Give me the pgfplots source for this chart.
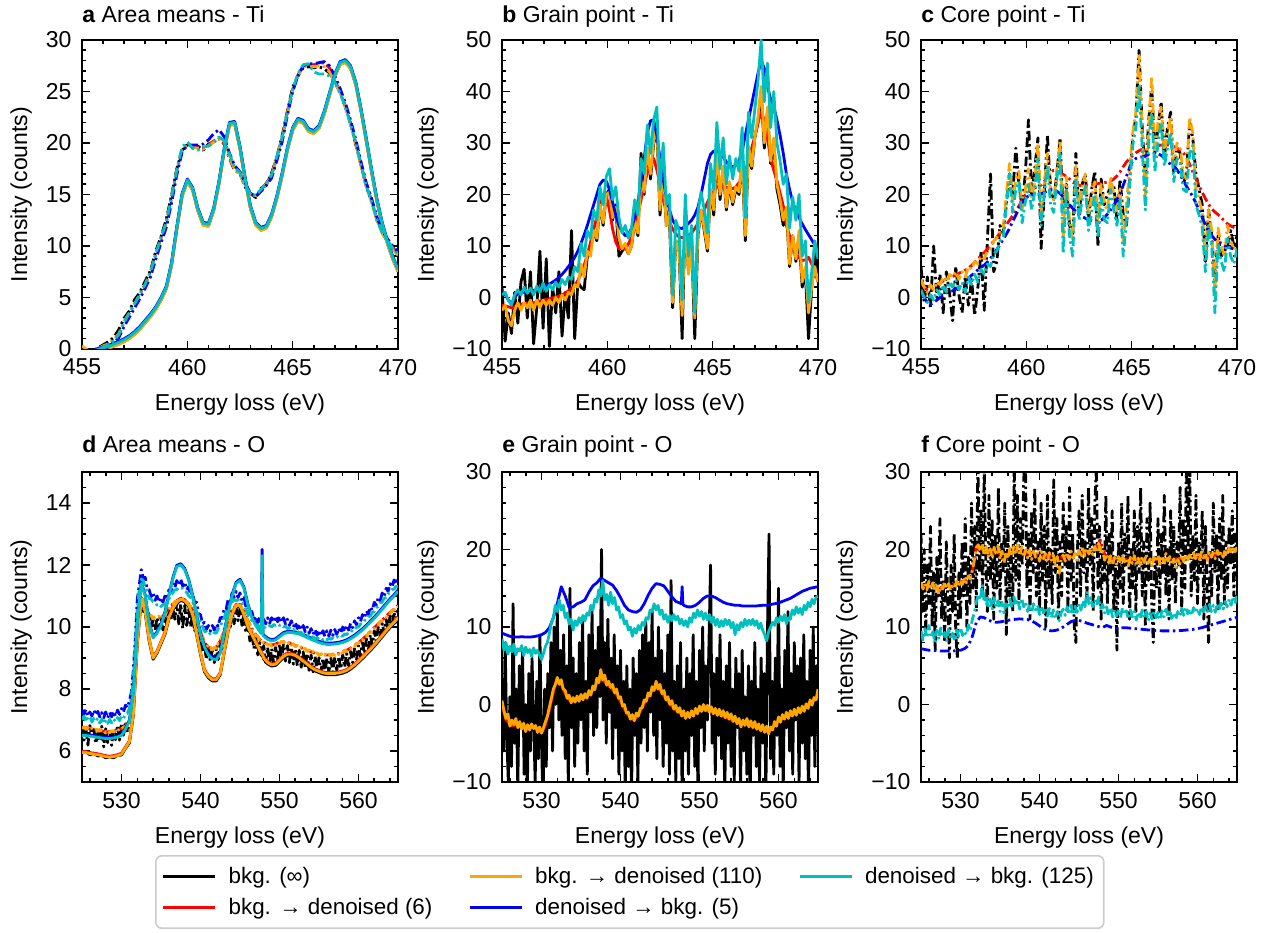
\documentclass[border=0pt]{standalone}
\usepackage{fontspec}
\setmainfont{Liberation Sans}
\usepackage{pgfplots}
\usepackage{pgfplotstable}
\pgfplotsset{compat=1.18}
\definecolor{cK}{RGB}{0,0,0}
\definecolor{cR}{RGB}{255,0,0}
\definecolor{cO}{RGB}{255,165,0}
\definecolor{cB}{RGB}{0,0,255}
\definecolor{cC}{RGB}{0,191,191}
\newcommand{\fs}{\fontsize{11.5}{13.8}\selectfont}
\newcommand{\fl}{\fontsize{11.2}{13.4}\selectfont}
\pgfplotsset{
  panel/.style={
    scale only axis, width=158pt,
    axis line style={line width=0.9pt},
    every tick/.style={black, line width=0.8pt},
    tick align=inside,
    major tick length=4pt, minor tick length=2pt,
    tick label style={font=\fs},
    label style={font=\fs},
    xlabel={Energy loss (eV)},
    ylabel={Intensity (counts)},
    xlabel style={yshift=-2.5pt},
    xticklabel style={yshift=-1.5pt},
    yticklabel style={xshift=-1.8pt},
    every axis plot/.append style={line width=1.4pt, line join=round},
  },
  ttl/.style 2 args={extra description/.append code={\node[anchor=base west, font=\fs, inner sep=0pt, yshift=#1] at (0,1) {#2};}},
  ti/.style={xmin=455,xmax=470, xtick={455,460,465,470}, xticklabels={455,460,465,470},
    minor xtick={455,...,470}, height=154.5pt},
  ox/.style={xmin=525,xmax=565, xtick={530,540,550,560}, xticklabels={530,540,550,560},
    minor xtick={526,528,...,564}, height=155pt},
  ytp/.style={ymin=-10,ymax=50, ytick={-10,0,10,20,30,40,50}, yticklabels={−10,0,10,20,30,40,50}, minor ytick={-10,-8,...,50}},
  yop/.style={ymin=-10,ymax=30, ytick={-10,0,10,20,30}, yticklabels={−10,0,10,20,30}, minor ytick={-10,-8,...,30}},
  dd/.style={dash pattern=on 4.8pt off 1.8pt on 1.2pt off 1.8pt},
}

\begin{document}

\pgfplotstableread{
x sK sR sO sB sC dK dR dO dB dC
455.00 -0.75 -0.7 -0.8 -0.5 -0.6 -0.2 -0.4 0.3 -0.5 -0.3
455.25 -0.65 -0.6 -0.7 -0.4 -0.5 -0.1 -0.3 -0.1 -0.4 -0.2
455.50 -0.45 -0.4 -0.5 -0.2 -0.3 -0.2 -0.3 -0.2 -0.5 -0.3
455.75 -0.2 -0.15 -0.25 0.05 -0.05 0.1 -0.1 0.0 -0.3 -0.1
456.00 -0.05 0.0 -0.1 0.2 0.1 0.4 0.2 0.3 0.0 0.2
456.25 0.1 0.15 0.05 0.35 0.25 0.7 0.4 0.5 0.2 0.4
456.50 0.3 0.35 0.25 0.55 0.45 1.1 0.8 0.9 0.6 0.8
456.75 0.5 0.55 0.45 0.75 0.65 1.9 1.4 1.5 1.1 1.4
457.00 0.75 0.8 0.7 1.0 0.9 3.0 2.6 2.7 2.2 2.6
457.25 1.05 1.1 1.0 1.3 1.2 3.7 3.5 3.5 3.1 3.5
457.50 1.45 1.5 1.4 1.7 1.6 4.8 4.4 4.4 4.0 4.4
457.75 1.95 2.0 1.9 2.2 2.1 5.5 5.3 5.3 4.9 5.3
458.00 2.55 2.6 2.5 2.8 2.7 6.6 6.3 6.2 5.9 6.3
458.25 3.15 3.2 3.1 3.4 3.3 7.6 7.5 7.4 7.0 7.5
458.50 3.85 3.9 3.8 4.1 4.0 9.5 9.2 9.1 8.7 9.2
458.75 4.75 4.8 4.7 5.0 4.9 10.9 10.8 10.7 10.3 10.8
459.00 5.85 5.9 5.8 6.1 6.0 12.6 12.3 12.2 11.8 12.3
459.25 8.15 8.2 8.1 8.4 8.3 14.9 14.7 14.6 14.2 14.7
459.50 11.65 11.7 11.6 11.9 11.8 17.5 17.4 17.3 16.9 17.4
459.75 14.85 14.9 14.8 15.1 15.0 19.3 19.4 19.3 19.1 19.6
460.00 16.25 16.3 16.2 16.5 16.4 19.8 19.9 19.8 19.8 20.1
460.25 15.45 15.5 15.4 15.7 15.6 19.5 19.7 19.6 19.8 19.5
460.50 13.45 13.5 13.4 13.7 13.6 19.7 19.6 19.5 19.8 19.3
460.75 12.05 12.1 12.0 12.3 12.2 19.3 19.5 19.4 19.9 19.6
461.00 11.95 12.0 11.9 12.2 12.1 19.9 19.8 19.7 20.3 19.7
461.25 13.45 13.5 13.4 13.7 13.6 20.1 20.2 20.1 20.9 20.0
461.50 16.05 16.1 16.0 16.3 16.2 20.4 20.5 20.4 21.3 20.6
461.75 19.25 19.3 19.2 19.5 19.4 19.9 20.0 20.0 20.6 20.2
462.00 21.75 21.8 21.7 22.0 21.9 18.5 18.6 18.6 19.0 18.9
462.25 21.85 21.9 21.8 22.1 22.0 17.3 17.5 17.4 17.8 17.6
462.50 19.45 19.5 19.4 19.7 19.6 17.1 17.0 16.9 17.2 17.1
462.75 16.35 16.4 16.3 16.6 16.5 15.7 15.8 15.8 16.1 15.9
463.00 13.65 13.7 13.6 13.9 13.8 15.1 15.0 15.0 15.1 15.0
463.25 12.05 12.1 12.0 12.3 12.2 14.7 14.9 14.9 14.8 14.9
463.50 11.55 11.6 11.5 11.8 11.7 15.6 15.5 15.4 15.3 15.5
463.75 11.75 11.8 11.7 12.0 11.9 15.9 16.1 16.0 15.9 16.1
464.00 12.85 12.9 12.8 13.1 13.0 17.1 16.9 16.8 16.6 16.9
464.25 14.65 14.7 14.6 14.9 14.8 18.6 18.7 18.6 18.3 18.7
464.50 16.85 16.9 16.8 17.1 17.0 20.7 20.5 20.4 20.1 20.5
464.75 19.35 19.4 19.3 19.6 19.5 23.1 23.0 22.9 22.7 23.0
465.00 21.25 21.3 21.2 21.5 21.4 25.4 25.2 25.1 25.0 25.2
465.25 22.15 22.2 22.1 22.4 22.3 26.5 26.6 26.5 26.5 26.7
465.50 21.95 22.0 21.9 22.2 22.1 27.3 27.5 27.4 27.5 27.6
465.75 21.15 21.2 21.1 21.4 21.3 27.4 27.6 27.5 27.7 27.7
466.00 20.95 21.0 20.9 21.2 21.1 27.3 27.6 27.4 27.7 26.9
466.25 21.45 21.5 21.4 21.7 21.6 27.4 27.7 27.5 27.8 26.7
466.50 22.85 22.9 22.8 23.1 23.0 27.2 27.8 27.4 27.9 26.7
466.75 24.65 24.7 24.6 24.9 24.8 26.8 27.3 26.9 27.5 26.5
467.00 26.45 26.5 26.4 26.7 26.6 25.9 26.1 25.9 26.5 25.9
467.25 27.65 27.7 27.6 27.9 27.8 24.9 25.0 24.9 25.3 24.9
467.50 27.85 27.9 27.8 28.1 28.0 23.5 23.6 23.5 23.9 23.5
467.75 27.25 27.3 27.2 27.5 27.4 21.9 21.8 21.8 22.2 21.8
468.00 25.65 25.7 25.6 25.9 25.8 19.8 20.0 19.9 20.3 20.0
468.25 23.05 23.1 23.0 23.3 23.2 17.9 17.8 17.7 18.1 17.8
468.50 20.15 20.2 20.1 20.4 20.3 15.7 15.8 15.7 16.1 15.8
468.75 17.15 17.2 17.1 17.4 17.3 14.4 14.3 14.2 14.6 14.3
469.00 14.35 14.4 14.3 14.6 14.5 12.5 12.6 12.5 12.8 12.6
469.25 12.05 12.1 12.0 12.3 12.2 11.4 11.3 11.2 11.5 11.3
469.50 10.25 10.3 10.2 10.5 10.4 10.4 10.5 10.4 10.7 10.5
469.75 8.75 8.8 8.7 9.0 8.9 9.9 9.8 9.7 10.0 9.8
470.00 7.55 7.6 7.5 7.8 7.7 9.1 9.2 9.1 9.4 9.2
}\tA

\pgfplotstableread{
x K R O B C
455.00 2 -1.5 -2.5 0.8 0.5
455.15 -8.5 -1.6 -1.5 0.6 1.0
455.30 -3 -1.8 -4.5 -0.5 -0.5
455.45 -7 -2.0 -5.5 -1.2 -1.5
455.60 1 -1.8 -2.5 0.0 0.5
455.75 -5 -1.5 -1.0 0.8 1.5
455.90 3 -1.3 -2.5 1.0 0.5
456.05 5.5 -1.2 -1.0 1.0 2.0
456.20 -4 -1.1 -2.0 1.2 0.8
456.35 5 -1.05 -0.5 1.3 1.8
456.50 -9 -1.0 -2.5 1.4 0.5
456.65 -2 -0.85 -0.5 1.5 2.2
456.80 9 -0.7 -2.0 1.7 1.0
456.95 -6 -0.55 -0.5 2.0 2.8
457.10 7.5 -0.4 -1.5 2.3 1.2
457.25 -9.5 -0.25 -0.5 2.6 2.5
457.40 2 -0.1 -1.5 3.0 1.5
457.55 -3 0.1 0.0 3.4 3.0
457.70 5 0.3 -1.0 3.9 2.0
457.85 -7.5 0.55 0.5 4.5 3.5
458.00 1 0.8 -0.5 5.2 2.5
458.15 -4 1.3 1.0 6.0 4.0
458.30 13 1.8 0.5 6.8 3.5
458.45 -8 2.3 2.5 7.8 6.0
458.60 3 3.3 2.0 9.0 5.0
458.75 2 4.6 6.5 10.5 10.5
458.90 1.5 6.3 4.0 12.2 8.0
459.05 8 8.3 9.0 14.0 13.0
459.20 9 10.7 8.0 16.0 11.5
459.35 13 13.2 13.0 18.0 17.0
459.50 11 15.7 11.5 20.0 15.0
459.65 18 18.2 18.0 22.0 21.5
459.80 14 19.5 14.5 22.8 18.0
459.95 20 19.8 20.0 22.6 23.5
460.10 21 17.0 20.5 21.0 25.0
460.25 15 13.3 15.5 18.5 19.0
460.40 18 10.8 17.5 16.0 21.5
460.55 8 9.5 11.5 14.0 15.5
460.70 9 9.4 9.5 12.8 12.5
460.85 10 9.4 10.5 12.0 14.0
461.00 8.5 10.4 8.5 12.2 11.5
461.15 10 11.7 10.0 13.5 13.5
461.30 15 13.7 15.0 15.5 19.0
461.45 12 16.0 12.5 18.5 16.0
461.60 28 19.0 23.0 22.5 27.0
461.75 20 21.8 20.5 27.0 24.0
461.90 29 24.3 29.0 32.0 33.5
462.05 23 26.3 24.0 34.3 28.0
462.20 30 27.0 30.5 34.5 34.5
462.35 33 24.8 33.5 31.5 37.0
462.50 16 22.0 17.0 27.0 21.0
462.65 25 19.0 25.5 23.0 30.0
462.80 14 16.7 14.0 19.5 18.0
462.95 15 14.7 16.0 17.0 20.0
463.10 -2 13.3 -1.0 15.0 0.5
463.25 11 12.3 11.0 14.0 15.0
463.40 10 11.8 9.5 13.5 13.0
463.55 -8 11.6 -3.5 13.4 -0.5
463.70 17 11.7 16.0 13.8 20.0
463.85 5 12.1 4.5 14.4 8.0
464.00 11 12.5 10.0 15.0 14.0
464.15 -8 13.4 -4.0 16.0 -3.0
464.30 12 14.4 12.5 17.5 16.5
464.45 17 15.5 17.0 20.0 20.5
464.60 13 17.0 13.5 23.0 17.0
464.75 9 18.5 9.5 26.0 12.5
464.90 21 19.6 21.0 27.8 26.0
465.05 16 20.6 17.0 28.4 21.0
465.20 28 21.5 28.5 28.5 34.0
465.35 19 21.5 20.0 28.2 25.0
465.50 25 21.5 25.5 27.3 31.0
465.65 17 21.4 17.5 26.3 22.0
465.80 22 21.3 22.5 25.6 27.5
465.95 18 21.1 18.5 25.4 23.0
466.10 21 21.5 21.5 25.6 27.0
466.25 20 22.3 20.5 26.5 24.5
466.40 27 23.0 27.5 28.5 33.0
466.55 11 24.3 12.0 31.5 15.5
466.70 29 26.8 29.5 34.5 36.0
466.85 25 29.0 25.5 37.5 31.0
467.00 31 31.3 31.0 40.5 36.5
467.15 34 34.0 35.0 43.5 42.0
467.30 40 36.0 41.0 46.0 50.0
467.45 29 34.5 30.0 44.5 38.0
467.60 36 31.0 37.0 41.0 45.5
467.75 26 27.0 26.5 38.5 33.0
467.90 30 24.7 31.0 37.0 40.0
468.05 21 22.7 22.0 34.5 30.0
468.20 18 20.3 19.0 31.5 26.5
468.35 14 17.8 15.0 28.0 22.0
468.50 17 14.0 17.5 24.0 24.0
468.65 6 12.0 6.5 21.0 13.5
468.80 12 10.0 12.0 18.5 19.5
468.95 7 8.5 7.5 16.8 15.0
469.10 12 7.7 13.0 15.5 20.0
469.25 2 7.2 3.0 14.3 8.0
469.40 5 7.3 6.0 13.2 11.0
469.55 -8 7.8 -3.0 12.2 -1.0
469.70 2 6.5 2.0 11.2 5.0
469.85 9 5.0 6.0 10.2 11.0
470.00 3 3.0 3.0 9.3 7.5
}\tB

\pgfplotstableread{
x K R O B C
455.00 6.0 2.7 3.5 0.5 1.5
455.15 -1.0 2.2 2.0 0.0 0.0
455.30 4.0 1.4 1.0 -1.0 -1.0
455.45 -2.0 1.5 2.5 -1.3 0.5
455.60 10.0 2.0 1.5 -1.0 -0.5
455.75 0.0 2.5 3.0 -0.5 1.5
455.90 4.5 2.9 2.5 0.0 0.5
456.05 -3.0 3.2 4.0 0.5 2.5
456.20 5.0 3.5 3.0 0.9 1.0
456.35 1.0 3.8 4.5 1.1 3.0
456.50 -4.5 4.1 4.0 1.3 2.0
456.65 6.0 4.4 5.0 1.6 3.5
456.80 0.5 4.7 3.5 2.0 1.5
456.95 -3.0 5.0 5.0 2.5 3.0
457.10 4.0 5.3 4.0 3.0 1.0
457.25 -1.5 5.7 6.0 3.7 4.0
457.40 3.5 6.2 5.5 4.3 2.5
457.55 -3.5 6.8 7.0 4.8 4.5
457.70 2.0 7.5 6.5 5.4 3.0
457.85 9.0 8.1 8.0 5.9 5.5
458.00 -2.5 8.7 7.5 6.3 4.5
458.15 11.0 9.4 9.0 6.9 6.5
458.30 24.0 10.1 9.5 7.6 6.0
458.45 5.0 10.9 11.0 8.4 8.5
458.60 7.0 11.7 11.5 9.3 9.0
458.75 14.0 12.5 13.0 10.3 11.0
458.90 12.5 13.3 13.5 11.3 11.5
459.05 18.0 14.1 20.0 12.3 18.0
459.20 24.0 15.0 26.0 13.4 24.0
459.35 20.0 15.9 18.5 14.8 16.5
459.50 29.0 16.8 23.0 16.0 21.0
459.65 22.0 17.8 24.5 17.3 22.5
459.80 17.5 18.9 17.0 18.4 14.5
459.95 24.0 19.9 21.0 19.2 18.5
460.10 34.5 20.5 25.0 19.7 22.0
460.25 20.0 20.9 19.5 19.9 17.0
460.40 25.0 21.3 22.5 20.0 20.5
460.55 31.0 21.6 30.0 20.0 27.0
460.70 9.5 21.8 16.5 20.1 14.0
460.85 20.0 22.5 22.0 20.4 20.0
461.00 31.5 23.5 28.0 20.7 25.5
461.15 21.0 24.4 20.5 20.9 18.0
461.30 19.0 24.7 19.0 20.9 16.5
461.45 24.0 24.6 25.0 20.6 23.0
461.60 31.0 24.3 30.5 20.2 28.0
461.75 16.0 23.9 11.5 19.6 8.5
461.90 22.0 23.5 23.5 18.8 21.0
462.05 14.0 23.0 15.0 18.0 12.0
462.20 12.0 22.4 11.0 17.3 8.0
462.35 28.0 22.0 25.5 16.7 23.0
462.50 16.0 21.8 17.5 16.1 15.0
462.65 22.0 21.7 21.5 15.7 19.0
462.80 24.0 21.7 24.0 15.4 21.5
462.95 15.0 21.8 16.0 15.1 13.0
463.10 21.0 21.9 19.5 14.9 16.5
463.25 24.5 22.0 22.5 14.7 20.0
463.40 10.0 22.1 14.5 14.7 11.5
463.55 23.0 22.2 22.0 15.0 19.5
463.70 18.0 22.3 18.0 15.5 15.0
463.85 20.0 22.4 17.0 16.2 14.5
464.00 21.5 22.6 23.5 17.0 21.0
464.15 22.0 23.0 20.0 17.9 17.0
464.30 15.0 23.6 17.0 19.0 14.0
464.45 23.0 24.4 21.5 20.2 19.0
464.60 16.0 25.4 11.0 21.8 8.0
464.75 14.0 26.3 18.0 23.5 15.0
464.90 22.0 27.0 25.0 25.2 22.0
465.05 31.0 27.6 32.0 26.5 29.5
465.20 35.0 28.1 36.0 27.0 33.0
465.35 48.0 28.5 47.0 27.2 41.0
465.50 33.0 28.8 32.0 27.3 29.0
465.65 23.0 29.0 20.0 27.5 17.0
465.80 34.0 29.2 33.0 27.8 30.0
465.95 41.0 29.3 43.0 28.0 36.0
466.10 28.0 29.4 27.5 28.0 24.5
466.25 33.0 29.5 34.0 27.9 30.0
466.40 38.0 29.6 37.0 27.6 34.0
466.55 27.0 29.6 28.0 27.1 25.5
466.70 33.0 29.6 32.0 26.5 29.0
466.85 36.0 29.5 35.0 25.8 32.0
467.00 24.0 29.3 25.5 25.6 22.5
467.15 29.0 29.0 30.0 24.8 27.0
467.30 28.0 28.6 29.0 23.8 26.5
467.45 22.0 28.1 24.0 22.7 21.0
467.60 24.0 27.2 23.0 21.6 20.5
467.75 34.0 25.9 35.0 20.6 28.0
467.90 31.0 24.4 32.0 19.6 29.5
468.05 24.0 23.0 21.0 18.3 18.0
468.20 21.0 21.7 19.0 16.9 16.0
468.35 18.0 20.4 16.5 15.5 13.5
468.50 7.0 19.2 8.0 14.1 5.0
468.65 17.0 18.1 17.0 12.9 14.0
468.80 12.0 17.2 13.0 12.0 10.0
468.95 3.0 16.6 1.0 11.3 -3.0
469.10 12.0 16.1 13.5 10.8 10.5
469.25 8.0 15.5 10.0 10.4 7.0
469.40 9.0 14.9 8.0 10.0 5.0
469.55 10.0 14.3 14.0 9.8 11.5
469.70 13.0 13.9 11.0 9.6 8.0
469.85 10.0 13.6 9.5 9.4 6.5
470.00 12.0 13.4 10.0 9.2 9.5
}\tC

\pgfplotstableread{
x K R O B C
525.0 5.93 5.98 5.95 6.54 6.50
525.5 5.97 5.98 5.95 6.54 6.50
526.0 5.88 5.95 5.92 6.52 6.48
526.5 5.92 5.93 5.90 6.50 6.46
527.0 5.84 5.91 5.88 6.48 6.44
527.5 5.86 5.88 5.85 6.46 6.42
528.0 5.78 5.85 5.82 6.44 6.40
528.5 5.81 5.83 5.80 6.44 6.40
529.0 5.78 5.85 5.82 6.46 6.42
529.5 5.86 5.88 5.85 6.49 6.45
530.0 5.87 5.93 5.90 6.54 6.50
530.5 6.08 6.13 6.10 6.74 6.70
531.0 6.26 6.33 6.30 6.99 6.95
531.5 7.15 7.23 7.20 7.94 7.90
532.0 9.45 9.53 9.50 10.14 10.10
532.5 10.85 10.93 10.90 11.44 11.40
533.0 10.45 10.53 10.50 11.04 11.00
533.5 9.55 9.63 9.60 10.14 10.10
534.0 8.96 9.03 9.00 9.69 9.65
534.5 9.16 9.23 9.20 9.84 9.80
535.0 9.46 9.53 9.50 10.09 10.05
535.5 9.76 9.83 9.80 10.49 10.45
536.0 10.26 10.33 10.30 11.04 11.00
536.5 10.56 10.63 10.60 11.59 11.55
537.0 10.76 10.83 10.80 11.99 11.95
537.5 10.86 10.93 10.90 12.04 12.00
538.0 10.81 10.88 10.85 11.89 11.85
538.5 10.66 10.73 10.70 11.54 11.50
539.0 10.36 10.43 10.40 11.04 11.00
539.5 9.76 9.83 9.80 10.39 10.35
540.0 9.11 9.18 9.15 9.79 9.75
540.5 8.56 8.63 8.60 9.39 9.35
541.0 8.36 8.43 8.40 9.14 9.10
541.5 8.26 8.33 8.30 9.01 8.97
542.0 8.26 8.33 8.30 8.99 8.95
542.5 8.46 8.53 8.50 9.19 9.15
543.0 9.16 9.23 9.20 9.84 9.80
543.5 9.86 9.93 9.90 10.49 10.45
544.0 10.36 10.43 10.40 11.04 11.00
544.5 10.66 10.73 10.70 11.44 11.40
545.0 10.66 10.73 10.70 11.54 11.50
545.5 10.36 10.43 10.40 11.29 11.25
546.0 9.96 10.03 10.00 10.74 10.70
546.5 9.71 9.78 9.75 10.34 10.30
547.0 9.46 9.53 9.50 10.09 10.05
547.5 9.21 9.28 9.25 9.89 9.85
547.7 9.11 9.18 9.15 9.83 9.79
547.8 9.08 9.15 9.12 12.50 12.30
547.9 9.04 9.11 9.08 9.79 9.75
548.0 8.96 9.03 9.00 9.74 9.70
548.5 8.81 8.88 8.85 9.64 9.60
549.0 8.74 8.81 8.78 9.59 9.55
549.5 8.76 8.83 8.80 9.62 9.58
550.0 8.88 8.95 8.92 9.72 9.68
550.5 9.01 9.08 9.05 9.82 9.78
551.0 9.08 9.15 9.12 9.86 9.82
551.5 9.08 9.15 9.12 9.86 9.82
552.0 9.04 9.11 9.08 9.84 9.80
552.5 8.96 9.03 9.00 9.81 9.77
553.0 8.86 8.93 8.90 9.76 9.72
553.5 8.76 8.83 8.80 9.70 9.66
554.0 8.66 8.73 8.70 9.64 9.60
554.5 8.58 8.65 8.62 9.59 9.55
555.0 8.53 8.60 8.57 9.54 9.50
555.5 8.48 8.55 8.52 9.50 9.46
556.0 8.46 8.53 8.50 9.48 9.44
556.5 8.46 8.53 8.50 9.48 9.44
557.0 8.46 8.53 8.50 9.49 9.45
557.5 8.48 8.55 8.52 9.51 9.47
558.0 8.51 8.58 8.55 9.54 9.50
558.5 8.56 8.63 8.60 9.59 9.55
559.0 8.64 8.71 8.68 9.66 9.62
559.5 8.74 8.81 8.78 9.74 9.70
560.0 8.86 8.93 8.90 9.84 9.80
560.5 8.98 9.05 9.02 9.94 9.90
561.0 9.11 9.18 9.15 10.06 10.02
561.5 9.24 9.31 9.28 10.19 10.15
562.0 9.38 9.45 9.42 10.32 10.28
562.5 9.53 9.60 9.57 10.46 10.42
563.0 9.68 9.75 9.72 10.61 10.57
563.5 9.84 9.91 9.88 10.76 10.72
564.0 9.98 10.05 10.02 10.91 10.87
564.5 10.11 10.18 10.15 11.04 11.00
565.0 10.26 10.33 10.30 11.19 11.15
}\tDs

\pgfplotstableread{
x K R O B C
525.00 6.80 6.75 6.72 7.33 7.00
525.25 6.35 6.75 6.78 7.19 7.13
525.50 6.70 6.75 6.70 7.34 6.94
525.75 6.19 6.74 6.76 7.13 7.09
526.00 6.82 6.72 6.68 7.26 7.12
526.25 6.46 6.71 6.74 7.13 6.93
526.50 6.70 6.70 6.66 7.32 7.05
526.75 6.24 6.69 6.71 7.16 6.97
527.00 6.58 6.68 6.64 7.28 7.06
527.25 6.31 6.66 6.70 7.10 6.90
527.50 6.80 6.65 6.62 7.24 7.03
527.75 6.13 6.63 6.66 7.07 6.88
528.00 6.72 6.62 6.58 7.26 7.00
528.25 6.27 6.62 6.65 7.06 6.89
528.50 6.62 6.62 6.59 7.25 7.02
528.75 6.18 6.63 6.66 7.10 6.91
529.00 6.69 6.64 6.61 7.28 7.03
529.25 6.36 6.66 6.69 7.12 6.95
529.50 6.83 6.68 6.64 7.32 7.08
529.75 6.35 6.70 6.73 7.18 6.98
530.00 6.90 6.72 6.70 7.37 7.12
530.25 6.51 6.76 6.78 7.25 7.05
530.50 6.95 6.80 6.77 7.48 7.20
530.75 6.60 6.88 6.90 7.40 7.22
531.00 6.95 7.00 6.97 7.62 7.38
531.25 7.30 7.40 7.42 7.90 7.75
531.50 7.95 8.00 7.96 8.62 8.38
531.75 8.85 9.10 9.12 9.66 9.52
532.00 10.15 10.20 10.16 10.90 10.62
532.25 10.40 10.70 10.72 11.35 11.22
532.50 10.85 10.95 10.91 11.85 11.55
532.75 10.50 10.85 10.87 11.58 11.50
533.00 10.65 10.70 10.66 11.60 11.28
533.25 10.20 10.55 10.57 11.22 11.15
533.50 10.35 10.40 10.36 11.20 10.92
533.75 9.95 10.35 10.37 10.98 10.90
534.00 10.25 10.30 10.26 11.10 10.82
534.25 9.90 10.32 10.35 10.86 10.80
534.50 10.30 10.35 10.31 11.00 10.70
534.75 9.95 10.32 10.35 10.80 10.74
535.00 10.25 10.30 10.26 10.95 10.66
535.25 9.90 10.35 10.38 10.80 10.72
535.50 10.35 10.40 10.36 11.00 10.70
535.75 10.05 10.50 10.53 10.92 10.85
536.00 10.55 10.60 10.56 11.20 10.90
536.25 10.20 10.68 10.70 11.12 11.05
536.50 10.70 10.75 10.71 11.40 11.10
536.75 10.25 10.80 10.83 11.27 11.20
537.00 10.80 10.85 10.81 11.50 11.20
537.25 10.10 10.88 10.90 11.35 11.28
537.50 10.75 10.90 10.86 11.55 11.25
537.75 9.95 10.88 10.91 11.32 11.25
538.00 10.70 10.85 10.81 11.45 11.15
538.25 10.05 10.80 10.83 11.20 11.12
538.50 10.60 10.75 10.71 11.30 11.00
538.75 10.00 10.65 10.68 11.02 10.95
539.00 10.45 10.55 10.51 11.10 10.80
539.25 9.85 10.40 10.43 10.78 10.70
539.50 10.15 10.25 10.21 10.80 10.50
539.75 9.50 10.05 10.08 10.42 10.35
540.00 9.75 9.85 9.81 10.40 10.10
540.25 9.20 9.68 9.71 10.10 10.02
540.50 9.40 9.50 9.46 10.15 9.85
540.75 8.95 9.42 9.45 9.92 9.85
541.00 9.30 9.35 9.31 10.05 9.75
541.25 8.90 9.32 9.35 9.87 9.80
541.50 9.25 9.30 9.26 10.05 9.75
541.75 8.85 9.32 9.35 9.90 9.82
542.00 9.30 9.35 9.31 10.10 9.80
542.25 8.95 9.45 9.48 10.02 9.95
542.50 9.50 9.55 9.51 10.30 10.00
542.75 9.25 9.72 9.75 10.28 10.20
543.00 9.85 9.90 9.86 10.60 10.30
543.25 9.60 10.10 10.13 10.57 10.50
543.50 10.25 10.30 10.26 10.90 10.60
543.75 9.95 10.43 10.46 10.82 10.75
544.00 10.50 10.55 10.51 11.10 10.80
544.25 10.10 10.63 10.66 10.95 10.88
544.50 10.65 10.70 10.66 11.15 10.85
544.75 10.20 10.70 10.73 10.95 10.88
545.00 10.60 10.70 10.66 11.10 10.80
545.25 10.05 10.60 10.63 10.85 10.78
545.50 10.40 10.50 10.46 10.95 10.65
545.75 9.80 10.35 10.38 10.65 10.58
546.00 10.10 10.20 10.16 10.70 10.40
546.25 9.55 10.08 10.11 10.42 10.35
546.50 9.85 9.95 9.91 10.50 10.20
546.75 9.30 9.85 9.88 10.25 10.18
547.00 9.65 9.75 9.71 10.35 10.05
547.25 9.10 9.68 9.71 10.14 10.07
547.50 9.50 9.60 9.56 10.30 10.00
547.75 9.00 9.55 9.58 10.10 10.03
548.00 9.40 9.50 9.46 10.25 9.95
548.25 8.85 9.48 9.51 10.10 10.03
548.50 9.35 9.45 9.41 10.30 10.00
548.75 8.80 9.43 9.46 10.12 10.05
549.00 9.30 9.42 9.38 10.30 10.00
549.25 8.85 9.43 9.46 10.15 10.08
549.50 9.35 9.45 9.41 10.35 10.05
549.75 8.90 9.48 9.51 10.17 10.10
550.00 9.45 9.50 9.46 10.35 10.05
550.25 8.95 9.51 9.54 10.15 10.08
550.50 9.45 9.52 9.48 10.30 10.00
550.75 8.90 9.51 9.54 10.10 10.03
551.00 9.40 9.50 9.46 10.25 9.95
551.25 8.85 9.48 9.51 10.05 9.98
551.50 9.35 9.45 9.41 10.20 9.90
551.75 8.80 9.43 9.46 10.00 9.93
552.00 9.30 9.40 9.36 10.15 9.85
552.25 8.75 9.38 9.41 9.95 9.88
552.50 9.25 9.35 9.31 10.10 9.80
552.75 8.70 9.33 9.36 9.90 9.83
553.00 9.20 9.30 9.26 10.05 9.75
553.25 8.70 9.28 9.31 9.85 9.78
553.50 9.15 9.25 9.21 10.00 9.70
553.75 8.60 9.23 9.26 9.80 9.73
554.00 9.10 9.20 9.16 9.95 9.65
554.25 8.55 9.18 9.21 9.76 9.69
554.50 9.05 9.15 9.11 9.92 9.62
554.75 8.60 9.14 9.17 9.73 9.66
555.00 9.02 9.12 9.08 9.90 9.60
555.25 8.55 9.11 9.14 9.71 9.64
555.50 9.00 9.10 9.06 9.88 9.58
555.75 8.50 9.10 9.13 9.70 9.63
556.00 9.00 9.10 9.06 9.88 9.58
556.25 8.55 9.10 9.13 9.71 9.64
556.50 9.00 9.10 9.06 9.90 9.60
556.75 8.55 9.11 9.14 9.73 9.66
557.00 9.02 9.12 9.08 9.92 9.62
557.25 8.60 9.13 9.16 9.76 9.69
557.50 9.05 9.15 9.11 9.96 9.66
557.75 8.65 9.18 9.21 9.80 9.73
558.00 9.10 9.20 9.16 10.00 9.70
558.25 8.70 9.23 9.26 9.85 9.78
558.50 9.15 9.25 9.21 10.05 9.75
558.75 8.75 9.28 9.31 9.90 9.83
559.00 9.22 9.32 9.28 10.12 9.82
559.25 8.85 9.36 9.39 9.98 9.91
559.50 9.30 9.40 9.36 10.20 9.90
559.75 8.95 9.45 9.48 10.07 10.00
560.00 9.40 9.50 9.46 10.30 10.00
560.25 9.05 9.55 9.58 10.17 10.10
560.50 9.50 9.60 9.56 10.40 10.10
560.75 9.15 9.66 9.69 10.28 10.21
561.00 9.62 9.72 9.68 10.52 10.22
561.25 9.25 9.78 9.81 10.40 10.33
561.50 9.75 9.85 9.81 10.65 10.35
561.75 9.40 9.92 9.95 10.54 10.47
562.00 9.88 9.98 9.94 10.80 10.50
562.25 9.55 10.04 10.07 10.70 10.63
562.50 10.00 10.10 10.06 10.95 10.65
562.75 9.65 10.16 10.19 10.85 10.78
563.00 10.12 10.22 10.18 11.10 10.80
563.25 9.80 10.28 10.31 11.00 10.93
563.50 10.25 10.35 10.31 11.25 10.95
563.75 9.90 10.41 10.44 11.15 11.08
564.00 10.37 10.47 10.43 11.40 11.10
564.25 10.05 10.52 10.55 11.28 11.21
564.50 10.48 10.58 10.54 11.52 11.22
564.75 10.15 10.64 10.67 11.38 11.31
565.00 10.60 10.70 10.66 11.60 11.30
}\tDd

\pgfplotstableread{
x K
525.0 3
525.2 -6
525.4 8
525.6 -4
525.8 -10
526.0 1
526.2 -8
526.4 13
526.6 -5
526.8 2
527.0 -11
527.2 5
527.4 -3
527.6 7
527.8 -9
528.0 0
528.2 -12
528.4 4
528.6 -6
528.8 6
529.0 -2
529.2 -10
529.4 3
529.6 -7
529.8 9
530.0 -5
530.2 -13
530.4 2
530.6 -8
530.8 4
531.0 -3
531.2 8
531.4 -6
531.6 10
531.8 0
532.0 12
532.2 -2
532.4 7
532.6 -4
532.8 9
533.0 -7
533.2 5
533.4 -11
533.6 15
533.8 -3
534.0 6
534.2 -8
534.4 4
534.6 -5
534.8 8
535.0 -2
535.2 11
535.4 -6
535.6 3
535.8 -9
536.0 9
536.2 -1
536.4 12
536.6 -4
536.8 7
537.0 -3
537.2 10
537.4 1
537.6 20
537.8 -2
538.0 8
538.2 -5
538.4 11
538.6 -1
538.8 6
539.0 -7
539.2 9
539.4 -3
539.6 5
539.8 -9
540.0 7
540.2 -6
540.4 3
540.6 -11
540.8 5
541.0 -8
541.2 2
541.4 -12
541.6 6
541.8 -4
542.0 4
542.2 -10
542.4 7
542.6 -5
542.8 9
543.0 -3
543.2 11
543.4 -6
543.6 8
543.8 -1
544.0 12
544.2 -4
544.4 6
544.6 -7
544.8 10
545.0 -2
545.2 7
545.4 -8
545.6 4
545.8 -5
546.0 9
546.2 -9
546.4 16
546.6 -6
546.8 3
547.0 -10
547.2 5
547.4 -7
547.6 8
547.8 -12
548.0 2
548.2 -6
548.4 6
548.6 -9
548.8 4
549.0 -4
549.2 9
549.4 -8
549.6 3
549.8 -11
550.0 7
550.2 -3
550.4 10
550.6 -6
550.8 5
551.0 -2
551.2 8
551.4 18
551.6 -5
551.8 4
552.0 -9
552.2 6
552.4 -4
552.6 9
552.8 -7
553.0 3
553.2 -12
553.4 5
553.6 -5
553.8 8
554.0 -8
554.2 2
554.4 -10
554.6 6
554.8 -3
555.0 4
555.2 -11
555.4 7
555.6 -6
555.8 1
556.0 -9
556.2 5
556.4 -13
556.6 3
556.8 -4
557.0 8
557.2 -8
557.4 2
557.6 -10
557.8 6
558.0 -5
558.2 4
558.4 -12
558.6 9
558.8 22
559.0 -7
559.2 3
559.4 -9
559.6 6
559.8 -4
560.0 15
560.2 -8
560.4 2
560.6 -11
560.8 7
561.0 -3
561.2 12
561.4 -6
561.6 4
561.8 -9
562.0 8
562.2 -2
562.4 5
562.6 -10
562.8 6
563.0 -5
563.2 9
563.4 -7
563.6 3
563.8 -12
564.0 7
564.2 -4
564.4 10
564.6 -8
564.8 5
565.0 1
}\tEk

\pgfplotstableread{
x O R C
525.00 0.5 0.0 8.5
525.25 -0.8 -1.0 7.0
525.50 -1.8 -2.0 8.0
525.75 -1.2 -2.2 6.5
526.00 -2.8 -2.6 7.5
526.25 -2.0 -2.7 6.8
526.50 -2.6 -2.7 7.8
526.75 -1.8 -2.6 6.4
527.00 -3.0 -2.7 7.2
527.25 -2.2 -2.8 6.9
527.50 -3.2 -2.9 7.6
527.75 -2.4 -3.0 6.3
528.00 -3.5 -3.1 7.4
528.25 -2.6 -3.1 6.7
528.50 -3.3 -3.0 7.1
528.75 -2.5 -3.0 6.2
529.00 -3.1 -3.0 7.3
529.25 -2.7 -3.1 6.6
529.50 -3.6 -3.3 7.0
529.75 -2.9 -3.4 6.4
530.00 -3.7 -3.5 5.8
530.25 -3.0 -3.2 6.6
530.50 -2.2 -2.6 7.5
530.75 -1.5 -1.6 8.0
531.00 -0.3 -0.7 9.2
531.25 0.8 0.5 10.5
531.50 2.0 1.6 11.2
531.75 2.6 2.5 12.8
532.00 3.5 3.0 12.0
532.25 2.6 3.0 13.5
532.50 3.2 2.6 12.2
532.75 2.0 2.0 12.8
533.00 1.8 1.4 11.2
533.25 0.8 0.9 11.8
533.50 1.2 0.6 10.4
533.75 0.2 0.5 11.0
534.00 0.9 0.5 9.6
534.25 0.3 0.5 10.8
534.50 1.1 0.6 10.2
534.75 0.4 0.7 11.2
535.00 1.3 0.8 10.5
535.25 0.6 0.9 11.5
535.50 1.4 1.0 10.8
535.75 0.8 1.1 11.8
536.00 1.8 1.3 11.5
536.25 1.2 1.5 12.8
536.50 2.4 1.8 12.2
536.75 1.9 2.2 13.6
537.00 3.4 2.7 13.2
537.25 2.8 3.0 14.8
537.50 4.5 3.2 14.0
537.75 3.2 3.1 16.0
538.00 3.8 2.9 13.5
538.25 2.5 2.7 14.2
538.50 3.0 2.4 12.8
538.75 2.2 2.2 14.5
539.00 2.6 1.9 13.0
539.25 1.5 1.6 13.8
539.50 2.0 1.3 12.2
539.75 0.8 0.9 12.6
540.00 1.0 0.4 11.2
540.25 -0.2 -0.1 11.6
540.50 0.0 -0.6 10.4
540.75 -1.1 -1.0 10.8
541.00 -1.0 -1.4 9.6
541.25 -1.9 -1.7 10.0
541.50 -1.3 -1.9 8.8
541.75 -2.1 -1.9 9.8
542.00 -1.1 -1.7 9.2
542.25 -1.5 -1.3 10.2
542.50 -0.5 -0.9 9.6
542.75 -0.4 -0.4 10.6
543.00 0.6 0.1 10.2
543.25 0.4 0.6 11.2
543.50 1.5 1.0 11.0
543.75 1.1 1.5 12.2
544.00 2.3 1.8 12.0
544.25 1.8 2.1 13.0
544.50 3.0 2.2 12.2
544.75 2.0 2.1 12.8
545.00 2.6 1.9 11.6
545.25 1.4 1.5 12.2
545.50 1.8 1.1 11.0
545.75 0.6 0.7 11.6
546.00 1.0 0.4 10.6
546.25 0.0 0.1 11.5
546.50 0.5 -0.2 10.8
546.75 -0.6 -0.5 11.6
547.00 -0.1 -0.7 10.9
547.25 -1.0 -0.9 11.4
547.50 -0.4 -1.1 10.4
547.75 -1.5 -1.3 11.0
548.00 -0.8 -1.4 10.2
548.25 -1.8 -1.5 10.8
548.50 -1.0 -1.5 10.0
548.75 -1.7 -1.4 11.2
549.00 -0.8 -1.3 10.6
549.25 -1.5 -1.2 11.8
549.50 -0.5 -1.0 11.2
549.75 -1.2 -0.9 12.2
550.00 -0.2 -0.8 11.4
550.25 -0.9 -0.7 12.0
550.50 0.0 -0.7 11.0
550.75 -0.8 -0.7 11.8
551.00 -0.1 -0.8 10.9
551.25 -1.0 -0.9 11.6
551.50 -0.3 -0.9 10.6
551.75 -1.2 -1.0 11.3
552.00 -0.5 -1.1 10.2
552.25 -1.4 -1.2 11.0
552.50 -0.6 -1.3 10.0
552.75 -1.5 -1.4 10.8
553.00 -0.8 -1.5 10.1
553.25 -1.7 -1.6 11.0
553.50 -1.0 -1.7 10.3
553.75 -1.9 -1.8 10.9
554.00 -1.2 -1.9 9.9
554.25 -2.2 -2.0 10.6
554.50 -1.5 -2.1 9.0
554.75 -2.5 -2.2 10.3
555.00 -1.8 -2.3 9.6
555.25 -2.9 -2.4 10.6
555.50 -2.0 -2.5 10.0
555.75 -2.7 -2.5 11.0
556.00 -1.8 -2.5 10.2
556.25 -2.9 -2.6 10.9
556.50 -2.1 -2.7 10.3
556.75 -3.0 -2.8 11.0
557.00 -2.2 -2.9 10.2
557.25 -3.2 -3.0 10.8
557.50 -2.5 -3.1 9.8
557.75 -3.4 -3.2 10.5
558.00 -2.6 -3.2 9.6
558.25 -3.6 -3.3 9.0
558.50 -2.8 -3.3 8.2
558.75 -3.8 -3.3 9.4
559.00 -2.9 -3.2 10.0
559.25 -3.3 -3.0 10.6
559.50 -2.2 -2.7 10.2
559.75 -2.8 -2.4 11.2
560.00 -1.6 -2.1 10.6
560.25 -2.3 -1.9 11.4
560.50 -1.3 -1.7 10.8
560.75 -1.9 -1.6 11.6
561.00 -1.0 -1.5 10.4
561.25 -1.8 -1.4 11.2
561.50 -0.8 -1.3 11.0
561.75 -1.5 -1.2 12.2
562.00 -0.6 -1.1 11.6
562.25 -1.4 -1.0 12.6
562.50 -0.4 -0.9 11.8
562.75 -1.1 -0.8 12.4
563.00 -0.2 -0.6 11.6
563.25 -0.9 -0.5 12.8
563.50 0.1 -0.3 12.2
563.75 -0.5 -0.1 13.2
564.00 0.6 0.1 12.6
564.25 -0.1 0.3 13.6
564.50 0.9 0.5 13.0
564.75 0.6 0.7 13.8
565.00 2.0 1.0 14.0
}\tEs

\pgfplotstableread{
x B
525.0 9.2
525.5 9.0
526.0 8.8
526.5 8.7
527.0 8.7
527.5 8.75
528.0 8.7
528.5 8.7
529.0 8.75
529.5 8.85
530.0 9.0
530.5 9.3
531.0 9.9
531.5 11.2
532.0 13.0
532.5 15.2
533.0 14.0
533.5 12.5
534.0 12.6
534.5 13.0
535.0 13.2
535.5 13.5
536.0 14.5
536.5 15.3
537.0 15.7
537.5 16.3
538.0 16.0
538.5 15.7
539.0 15.4
539.5 14.7
540.0 13.8
540.5 12.8
541.0 12.2
541.5 12.0
542.0 11.9
542.5 12.2
543.0 13.0
543.5 14.1
544.0 15.0
544.5 15.6
545.0 15.5
545.5 15.3
546.0 14.6
546.5 13.9
547.0 13.3
547.5 13.1
547.7 13.0
547.8 15.2
547.9 13.0
548.0 12.8
548.5 12.6
549.0 12.6
549.5 12.8
550.0 13.2
550.5 13.7
551.0 14.0
551.5 14.0
552.0 13.8
552.5 13.5
553.0 13.2
553.5 13.0
554.0 12.9
554.5 12.8
555.0 12.8
555.5 12.7
556.0 12.7
556.5 12.7
557.0 12.7
557.5 12.75
558.0 12.8
558.5 12.8
559.0 12.9
559.5 13.0
560.0 13.1
560.5 13.3
561.0 13.5
561.5 13.7
562.0 14.0
562.5 14.3
563.0 14.6
563.5 14.8
564.0 15.0
564.5 15.1
565.0 15.2
}\tEb

\pgfplotstableread{
x K
525.0 22
525.2 12
525.4 20
525.6 9
525.8 18
526.0 13
526.2 23
526.4 10
526.6 17
526.8 7
527.0 19
527.2 14
527.4 24
527.6 11
527.8 16
528.0 8
528.2 21
528.4 13
528.6 6
528.8 18
529.0 12
529.2 22
529.4 9
529.6 6
529.8 17
530.0 11
530.2 21
530.4 14
530.6 24
530.8 10
531.0 19
531.2 13
531.4 26
531.6 15
531.8 23
532.0 12
532.2 32
532.4 17
532.6 25
532.8 14
533.0 31
533.2 18
533.4 12
533.6 27
533.8 16
534.0 24
534.2 11
534.4 22
534.6 15
534.8 28
535.0 13
535.2 21
535.4 17
535.6 26
535.8 9
536.0 23
536.2 14
536.4 20
536.6 12
536.8 31
537.0 16
537.2 27
537.4 13
537.6 24
537.8 18
538.0 29
538.2 33
538.4 15
538.6 22
538.8 11
539.0 25
539.2 17
539.4 28
539.6 14
539.8 21
540.0 12
540.2 26
540.4 16
540.6 23
540.8 10
541.0 27
541.2 15
541.4 20
541.6 13
541.8 29
542.0 17
542.2 24
542.4 11
542.6 21
542.8 14
543.0 26
543.2 18
543.4 23
543.6 12
543.8 28
544.0 16
544.2 22
544.4 10
544.6 8
544.8 20
545.0 25
545.2 14
545.4 27
545.6 17
545.8 21
546.0 13
546.2 28
546.4 18
546.6 24
546.8 12
547.0 26
547.2 31
547.4 15
547.6 23
547.8 11
548.0 20
548.2 16
548.4 27
548.6 13
548.8 22
549.0 17
549.2 25
549.4 12
549.6 19
549.8 7
550.0 21
550.2 15
550.4 26
550.6 13
550.8 22
551.0 18
551.2 27
551.4 11
551.6 20
551.8 15
552.0 25
552.2 12
552.4 23
552.6 17
552.8 28
553.0 14
553.2 21
553.4 10
553.6 24
553.8 16
554.0 26
554.2 13
554.4 8
554.6 19
554.8 15
555.0 24
555.2 12
555.4 22
555.6 17
555.8 27
556.0 14
556.2 20
556.4 11
556.6 25
556.8 16
557.0 23
557.2 13
557.4 21
557.6 18
557.8 28
558.0 12
558.2 24
558.4 15
558.6 32
558.8 19
559.0 33
559.2 14
559.4 22
559.6 16
559.8 27
560.0 13
560.2 21
560.4 17
560.6 25
560.8 11
561.0 23
561.2 15
561.4 8
561.6 20
561.8 14
562.0 26
562.2 17
562.4 22
562.6 12
562.8 24
563.0 16
563.2 27
563.4 13
563.6 21
563.8 15
564.0 23
564.2 18
564.4 25
564.6 14
564.8 22
565.0 19
}\tFk

\pgfplotstableread{
x O R C
525.00 15.8 15.5 9.5
525.25 14.9 15.4 8.3
525.50 15.6 15.4 9.8
525.75 14.8 15.3 8.6
526.00 15.9 15.3 10.2
526.25 15.0 15.3 8.8
526.50 15.7 15.2 9.4
526.75 14.6 15.2 8.0
527.00 15.5 15.2 9.6
527.25 14.2 15.1 8.4
527.50 15.3 15.1 9.9
527.75 14.9 15.1 8.7
528.00 15.8 15.2 9.3
528.25 15.0 15.2 8.1
528.50 15.6 15.3 9.7
528.75 14.7 15.3 8.5
529.00 15.4 15.3 9.2
529.25 15.1 15.4 8.2
529.50 15.9 15.5 9.6
529.75 15.2 15.6 8.8
530.00 16.0 15.8 9.9
530.25 15.5 15.9 8.9
530.50 16.3 16.0 9.5
530.75 15.7 16.1 9.0
531.00 16.6 16.3 10.3
531.25 16.2 16.6 9.6
531.50 17.4 17.2 11.0
531.75 18.6 18.6 11.8
532.00 20.2 20.4 13.2
532.25 20.6 20.6 14.2
532.50 19.8 20.2 13.5
532.75 20.8 20.0 15.5
533.00 19.2 19.8 13.2
533.25 20.4 19.7 14.0
533.50 19.0 19.6 12.4
533.75 20.1 19.6 13.6
534.00 18.9 19.6 12.2
534.25 20.3 19.6 13.8
534.50 19.3 19.6 12.6
534.75 20.5 19.5 13.4
535.00 18.7 19.5 12.0
535.25 19.8 19.4 13.2
535.50 18.2 19.4 11.8
535.75 19.6 19.4 13.0
536.00 18.8 19.4 12.4
536.25 20.2 19.5 13.6
536.50 19.1 19.5 12.5
536.75 20.4 19.6 13.9
537.00 19.4 19.6 12.8
537.25 20.6 19.7 13.5
537.50 19.2 19.7 12.3
537.75 20.3 19.7 13.7
538.00 19.0 19.6 12.6
538.25 20.0 19.6 13.2
538.50 18.9 19.5 12.0
538.75 19.9 19.5 12.9
539.00 18.7 19.4 11.9
539.25 19.8 19.4 13.0
539.50 19.0 19.3 12.2
539.75 19.6 19.3 12.8
540.00 18.5 19.2 11.6
540.25 19.7 19.2 12.7
540.50 18.8 19.1 11.8
540.75 19.5 19.1 12.5
541.00 18.4 19.0 11.4
541.25 19.6 19.0 12.4
541.50 18.6 18.9 11.2
541.75 19.3 18.9 12.2
542.00 17.8 18.9 11.0
542.25 19.1 18.9 12.0
542.50 16.9 18.9 10.8
542.75 18.8 19.0 11.9
543.00 19.3 19.0 12.3
543.25 18.5 19.1 11.5
543.50 19.6 19.2 12.6
543.75 18.7 19.2 11.7
544.00 19.8 19.3 12.8
544.25 18.9 19.3 11.6
544.50 19.5 19.4 12.7
544.75 18.6 19.4 11.9
545.00 19.9 19.5 13.0
545.25 19.0 19.5 12.2
545.50 20.1 19.6 13.4
545.75 19.2 19.6 12.6
546.00 20.2 19.7 14.6
546.25 19.4 19.7 13.0
546.50 20.0 19.8 13.8
546.75 19.3 19.9 12.6
547.00 20.4 20.0 13.5
547.25 19.6 20.2 12.8
547.50 20.8 20.9 13.9
547.75 19.5 21.2 12.4
548.00 19.8 19.9 12.9
548.25 18.6 19.4 11.8
548.50 19.4 19.1 12.6
548.75 18.3 18.9 11.5
549.00 19.2 18.8 12.5
549.25 18.0 18.8 11.3
549.50 19.0 18.7 12.2
549.75 18.1 18.7 11.4
550.00 19.1 18.7 12.3
550.25 18.2 18.7 11.2
550.50 19.3 18.7 12.5
550.75 18.4 18.7 11.6
551.00 18.9 18.7 12.1
551.25 17.9 18.7 11.0
551.50 19.0 18.7 12.2
551.75 18.2 18.7 11.3
552.00 19.2 18.7 12.0
552.25 18.1 18.7 10.9
552.50 18.9 18.7 11.9
552.75 18.0 18.7 11.1
553.00 19.1 18.7 12.2
553.25 18.3 18.7 11.2
553.50 19.4 18.7 12.0
553.75 18.2 18.7 10.8
554.00 18.8 18.7 11.8
554.25 17.8 18.7 11.0
554.50 19.0 18.7 12.0
554.75 18.4 18.7 11.2
555.00 19.3 18.8 11.9
555.25 18.1 18.8 10.9
555.50 19.2 18.8 12.1
555.75 18.3 18.8 11.3
556.00 19.5 18.8 12.3
556.25 18.5 18.8 11.4
556.50 19.1 18.8 12.2
556.75 18.0 18.8 11.1
557.00 18.8 18.8 11.8
557.25 17.7 18.8 11.0
557.50 18.7 18.8 12.0
557.75 18.1 18.8 11.4
558.00 19.2 18.8 12.4
558.25 18.4 18.8 11.5
558.50 19.4 18.9 12.6
558.75 18.5 18.9 11.7
559.00 19.3 18.9 12.3
559.25 18.6 18.9 11.5
559.50 19.6 19.0 12.5
559.75 18.8 19.0 11.8
560.00 19.5 19.0 12.4
560.25 18.7 19.0 11.6
560.50 19.7 19.1 12.6
560.75 18.9 19.1 11.8
561.00 19.4 19.1 12.7
561.25 18.6 19.1 11.9
561.50 19.8 19.2 12.9
561.75 19.0 19.2 12.0
562.00 19.6 19.3 12.8
562.25 18.8 19.3 11.9
562.50 19.9 19.4 13.0
562.75 19.1 19.4 12.2
563.00 19.7 19.5 13.1
563.25 19.0 19.5 12.3
563.50 20.0 19.6 13.3
563.75 19.3 19.7 12.6
564.00 20.2 19.8 13.6
564.25 19.5 19.9 12.8
564.50 20.4 20.0 13.9
564.75 19.7 20.0 13.0
565.00 20.3 20.1 14.0
}\tFs

\pgfplotstableread{
x B
525.0 7.2
525.5 7.1
526.0 7.0
526.5 7.0
527.0 6.95
527.5 6.9
528.0 6.9
528.5 6.9
529.0 6.9
529.5 6.95
530.0 7.0
530.5 7.2
531.0 7.6
531.5 8.8
532.0 10.6
532.5 11.3
533.0 11.2
533.5 10.9
534.0 10.7
534.5 10.6
535.0 10.65
535.5 10.75
536.0 10.85
536.5 10.95
537.0 11.0
537.5 11.05
538.0 11.0
538.5 10.95
539.0 10.8
539.5 10.5
540.0 10.15
540.5 9.8
541.0 9.6
541.5 9.5
542.0 9.55
542.5 9.7
543.0 10.0
543.5 10.35
544.0 10.7
544.5 10.85
545.0 10.85
545.5 10.7
546.0 10.5
546.5 10.35
547.0 10.2
547.5 10.05
548.0 9.95
548.5 10.2
549.0 10.0
549.5 9.85
550.0 9.85
550.5 9.9
551.0 9.9
551.5 9.85
552.0 9.8
552.5 9.75
553.0 9.7
553.5 9.65
554.0 9.6
554.5 9.55
555.0 9.55
555.5 9.5
556.0 9.5
556.5 9.5
557.0 9.5
557.5 9.52
558.0 9.55
558.5 9.6
559.0 9.65
559.5 9.7
560.0 9.8
560.5 9.9
561.0 10.05
561.5 10.2
562.0 10.35
562.5 10.5
563.0 10.65
563.5 10.8
564.0 10.95
564.5 11.1
565.0 11.25
}\tFb

\begin{tikzpicture}
\path[use as bounding box] (0pt,0pt) rectangle (633.5pt,466pt);

% ---- a
\begin{axis}[panel, ti, at={(41pt,291.5pt)}, anchor=south west,
  ymin=0, ymax=30, ytick={0,5,...,30}, yticklabels={0,5,10,15,20,25,30}, minor ytick={0,1,...,30},
  ttl={8.7pt}{\textbf{a} Area means - Ti}]
\addplot[cK] table[x=x,y=sK]{\tA};
\addplot[cK,dd] table[x=x,y=dK]{\tA};
\addplot[cR] table[x=x,y=sR]{\tA};
\addplot[cR,dd] table[x=x,y=dR]{\tA};
\addplot[cO] table[x=x,y=sO]{\tA};
\addplot[cO,dd] table[x=x,y=dO]{\tA};
\addplot[cB] table[x=x,y=sB]{\tA};
\addplot[cB,dd] table[x=x,y=dB]{\tA};
\addplot[cC] table[x=x,y=sC]{\tA};
\addplot[cC,dd] table[x=x,y=dC]{\tA};
\end{axis}

% ---- b
\begin{axis}[panel, ti, ytp, at={(251pt,291.5pt)}, anchor=south west,
  ttl={8.7pt}{\textbf{b} Grain point - Ti}]
\addplot[cK] table[x=x,y=K]{\tB};
\addplot[cR] table[x=x,y=R]{\tB};
\addplot[cO] table[x=x,y=O]{\tB};
\addplot[cB] table[x=x,y=B]{\tB};
\addplot[cC] table[x=x,y=C]{\tB};
\end{axis}

% ---- c
\begin{axis}[panel, ti, ytp, at={(460.5pt,291.5pt)}, anchor=south west,
  ttl={8.7pt}{\textbf{c} Core point - Ti}]
\addplot[cK,dd] table[x=x,y=K]{\tC};
\addplot[cR,dd] table[x=x,y=R]{\tC};
\addplot[cO,dd] table[x=x,y=O]{\tC};
\addplot[cB,dd] table[x=x,y=B]{\tC};
\addplot[cC,dd] table[x=x,y=C]{\tC};
\end{axis}

% ---- d
\begin{axis}[panel, ox, at={(41pt,75pt)}, anchor=south west,
  ymin=5, ymax=15, ytick={6,8,10,12,14}, yticklabels={6,8,10,12,14}, minor ytick={5,5.5,...,15},
  ttl={10pt}{\textbf{d} Area means - O}]
\addplot[cK] table[x=x,y=K]{\tDs};
\addplot[cK,dd] table[x=x,y=K]{\tDd};
\addplot[cR] table[x=x,y=R]{\tDs};
\addplot[cR,dd] table[x=x,y=R]{\tDd};
\addplot[cO] table[x=x,y=O]{\tDs};
\addplot[cO,dd] table[x=x,y=O]{\tDd};
\addplot[cB] table[x=x,y=B]{\tDs};
\addplot[cB,dd] table[x=x,y=B]{\tDd};
\addplot[cC] table[x=x,y=C]{\tDs};
\addplot[cC,dd] table[x=x,y=C]{\tDd};
\end{axis}

% ---- e
\begin{axis}[panel, ox, yop, at={(251pt,75pt)}, anchor=south west,
  ttl={10pt}{\textbf{e} Grain point - O},
  legend columns=2, transpose legend, legend cell align=left,
  legend image code/.code={\draw[#1, line width=1.4pt, solid] (0pt,0pt) -- (26pt,0pt);},
  legend style={at={(-1.098,-0.2355)}, anchor=north west, font=\fl,
    draw=black!20, line width=0.8pt, rounded corners=3pt, inner xsep=3pt, inner ysep=3.5pt,
    row sep=2pt,
    /tikz/every odd column/.append style={column sep=4pt},
    /tikz/every even column/.append style={column sep=16pt}}]
\addplot[cK] table[x=x,y=K]{\tEk};
\addlegendentry{bkg. (∞)}
\addplot[cR] table[x=x,y=R]{\tEs};
\addlegendentry{bkg. → denoised (6)}
\addplot[cO] table[x=x,y=O]{\tEs};
\addlegendentry{bkg. → denoised (110)}
\addplot[cB] table[x=x,y=B]{\tEb};
\addlegendentry{denoised → bkg. (5)}
\addplot[cC] table[x=x,y=C]{\tEs};
\addlegendentry{denoised → bkg. (125)}
\end{axis}

% ---- f
\begin{axis}[panel, ox, yop, at={(460.5pt,75pt)}, anchor=south west,
  ttl={10pt}{\textbf{f} Core point - O}]
\addplot[cK,dd] table[x=x,y=K]{\tFk};
\addplot[cR,dd] table[x=x,y=R]{\tFs};
\addplot[cO,dd] table[x=x,y=O]{\tFs};
\addplot[cB,dd] table[x=x,y=B]{\tFb};
\addplot[cC,dd] table[x=x,y=C]{\tFs};
\end{axis}
\end{tikzpicture}
\end{document}
